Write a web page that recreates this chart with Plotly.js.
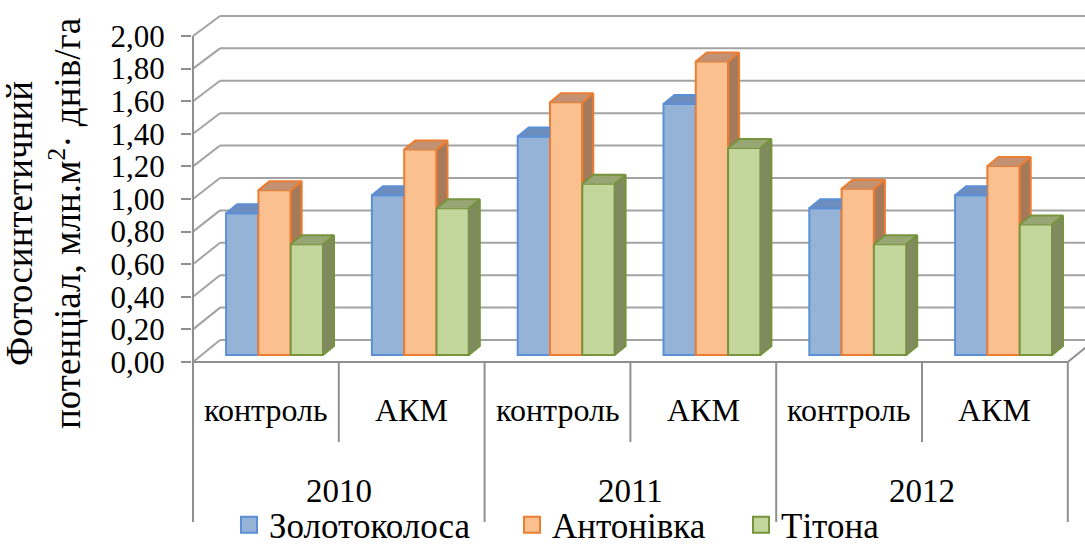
<!DOCTYPE html>
<html><head><meta charset="utf-8">
<script src="https://cdn.plot.ly/plotly-3.0.1.min.js"></script>
<style>html,body{margin:0;padding:0;background:#fff}#chart{width:1085px;height:547px}</style>
</head><body><div id="chart"></div>
<script>
// ---- data ----
const years = ['2010', '2011', '2012'];
const treatments = ['контроль', 'АКМ', 'контроль', 'АКМ', 'контроль', 'АКМ'];
const seriesNames = ['Золотоколоса', 'Антонівка', 'Тітона'];
const zolotokolosa = [0.87, 0.98, 1.34, 1.54, 0.90, 0.98];
const antonivka = [1.01, 1.26, 1.55, 1.80, 1.02, 1.16];
const titona = [0.68, 0.90, 1.05, 1.27, 0.68, 0.80];
const tickValues = [0, 0.2, 0.4, 0.6, 0.8, 1.0, 1.2, 1.4, 1.6, 1.8, 2.0];
const tickLabels = ['0,00', '0,20', '0,40', '0,60', '0,80', '1,00', '1,20', '1,40', '1,60', '1,80', '2,00'];

// ---- geometry / style ----
const W = 1085, H = 547;
const plotL = 192, plotR = 1085, plotT = 10, plotB = 366;
const pxCat = 145.8, pxVal = 163, zeroPx = 362;
const xMin = -0.5 - (193 - plotL) / pxCat;
const xMax = xMin + (plotR - plotL) / pxCat;
const yMin = -(plotB - zeroPx) / pxVal;
const yMax = (zeroPx - plotT) / pxVal;
const wallDX = 27 / pxCat, wallDY = 22 / pxVal, wallScale = 0.994;
const barBase = 7 / pxVal, barW = 32.3 / pxCat, barOff0 = -39.8 / pxCat;
const dDX = 11 / pxCat, dDY = 9 / pxVal;
const paperY = Y => (plotB - Y) / (plotB - plotT);
const paperX = X => (X - plotL) / (plotR - plotL);

const fills = ['#95B3D7', '#FAC090', '#C3D69B'];
const edges = ['#5B8FD6', '#ED7D31', '#77933C'];
const topFills = ['#6C8DBE', '#C29273', '#97A673'];
const sideFills = ['#5F7DA6', '#A57A5A', '#7F8B5F'];
const legendCenters = [250, 533, 762];
const gridColor = '#A3A3A3';
const axisColor = '#8F8F8F';
const serif = 'Liberation Serif, Times New Roman, serif';

const series = [zolotokolosa, antonivka, titona];
const idx = treatments.map((_, i) => i);
const traces = [];
const legendIds = ['legend', 'legend2', 'legend3'];

series.forEach((vals, s) => {
  traces.push({
    type: 'bar', name: seriesNames[s], x: idx, y: vals, base: barBase,
    width: barW, offset: barOff0 + s * barW, showlegend: false,
    marker: {color: fills[s], line: {color: edges[s], width: 2}},
    customdata: treatments.map((t, i) => years[Math.floor(i / 2)] + ' ' + t),
    hovertemplate: '%{customdata}<br>' + seriesNames[s] + ': %{y:.2f}<extra></extra>'
  });
});

const tops = series.map(() => ({x: [], y: []}));
const sides = series.map(() => ({x: [], y: []}));
function addPath(obj, pts) {
  pts.forEach(p => { obj.x.push(p[0]); obj.y.push(p[1]); });
  obj.x.push(null); obj.y.push(null);
}
idx.forEach(i => {
  series.forEach((vals, s) => {
    const v = vals[i];
    const t = barBase + v, b = barBase;
    const xl = i + barOff0 + s * barW, xr = xl + barW;
    const next = s < series.length - 1 ? series[s + 1][i] : null;
    if (next !== null && next >= v) {
      addPath(tops[s], [[xr, t + dDY], [xl + dDX, t + dDY], [xl, t], [xr, t]]);
    } else {
      addPath(tops[s], [[xl, t], [xl + dDX, t + dDY], [xr + dDX, t + dDY], [xr, t]]);
      if (next === null) {
        addPath(sides[s], [[xr, b], [xr + dDX, b + dDY], [xr + dDX, t + dDY], [xr, t]]);
      } else {
        const u = barBase + next;
        addPath(sides[s], [[xr + dDX, u + dDY], [xr + dDX, t + dDY], [xr, t], [xr, u]]);
      }
    }
  });
});
series.forEach((_, s) => {
  if (sides[s].x.length) traces.push({type: 'scatter', mode: 'lines', x: sides[s].x, y: sides[s].y,
    fill: 'toself', fillcolor: sideFills[s], line: {color: edges[s], width: 2}, hoverinfo: 'skip', showlegend: false});
  traces.push({type: 'scatter', mode: 'lines', x: tops[s].x, y: tops[s].y,
    fill: 'toself', fillcolor: topFills[s], line: {color: edges[s], width: 2}, hoverinfo: 'skip', showlegend: false});
});
// legend entries (one legend per series, placed like the original)
series.forEach((_, s) => {
  traces.push({type: 'scatter', mode: 'markers', name: seriesNames[s], x: [null], y: [null],
    legend: legendIds[s], showlegend: true, hoverinfo: 'skip',
    marker: {symbol: 'square', size: 16, color: fills[s], line: {color: edges[s], width: 2}}});
});

// ---- walls, floor, dividers ----
const shapes = [];
const nCat = treatments.length;
tickValues.forEach(v => {
  const yb = v * wallScale + wallDY;
  shapes.push({type: 'line', xref: 'x', yref: 'y', layer: 'below',
    x0: -0.5 + wallDX, x1: xMax + wallDX, y0: yb, y1: yb, line: {color: gridColor, width: 2}});
  shapes.push({type: 'line', xref: 'x', yref: 'y', layer: 'below',
    x0: -0.5, y0: v, x1: -0.5 + wallDX, y1: yb, line: {color: gridColor, width: 2}});
});
shapes.push({type: 'line', xref: 'x', yref: 'y', layer: 'below', x0: -0.5, x1: -0.5,
  y0: tickValues[0], y1: tickValues[tickValues.length - 1], line: {color: axisColor, width: 2}});
shapes.push({type: 'line', xref: 'x', yref: 'y', layer: 'below', x0: -0.5, x1: nCat - 0.5,
  y0: 0, y1: 0, line: {color: axisColor, width: 2}});
shapes.push({type: 'line', xref: 'x', yref: 'y', layer: 'below', x0: nCat - 0.5, x1: nCat - 0.5 + wallDX,
  y0: 0, y1: wallDY, line: {color: axisColor, width: 2}});
for (let k = 0; k <= nCat; k++) {
  const outer = k % 2 === 0;
  shapes.push({type: 'line', xref: 'x', yref: 'paper', x0: k - 0.5, x1: k - 0.5,
    y0: paperY(zeroPx), y1: paperY(outer ? 522 : 442), line: {color: axisColor, width: 2}});
}

// ---- labels ----
const annotations = [];
treatments.forEach((t, i) => annotations.push({xref: 'x', yref: 'paper', x: i, y: paperY(410),
  xanchor: 'center', yanchor: 'middle',
  text: t, showarrow: false, font: {family: serif, size: 32, color: '#000'}}));
years.forEach((yr, g) => annotations.push({xref: 'x', yref: 'paper', x: 2 * g + 0.5, y: paperY(491),
  xanchor: 'center', yanchor: 'middle',
  text: yr, showarrow: false, font: {family: serif, size: 33, color: '#000'}}));
annotations.push({xref: 'paper', yref: 'paper', x: paperX(43), y: paperY(224), textangle: -90,
  xanchor: 'center', yanchor: 'middle', showarrow: false,
  text: 'Фотосинтетичний<br>потенціал, млн.м<sup>2</sup>· днів/га',
  font: {family: serif, size: 37, color: '#000'}});

const layout = {
  width: W, height: H,
  margin: {l: plotL, r: W - plotR, t: plotT, b: H - plotB, pad: 0},
  paper_bgcolor: '#fff', plot_bgcolor: 'rgba(0,0,0,0)',
  barmode: 'overlay',
  xaxis: {range: [xMin, xMax], visible: false, fixedrange: true},
  yaxis: {range: [yMin, yMax], tickvals: tickValues, ticktext: tickLabels,
    ticks: 'outside', ticklen: 10, tickwidth: 2, tickcolor: axisColor,
    showgrid: false, zeroline: false, showline: false, ticklabelstandoff: 10,
    tickfont: {family: serif, size: 31, color: '#000'}, fixedrange: true},
  showlegend: true,
  shapes: shapes,
  annotations: annotations
};
legendIds.forEach((id, s) => {
  layout[id] = {orientation: 'h', xref: 'container', yref: 'container', maxheight: 200,
    x: (legendCenters[s] - 21) / W, xanchor: 'left', y: (H - 525) / H, yanchor: 'middle',
    font: {family: serif, size: 35, color: '#000'}, bgcolor: 'rgba(0,0,0,0)'};
});
Plotly.newPlot('chart', traces, layout, {displayModeBar: false, staticPlot: true});
</script>
</body></html>
